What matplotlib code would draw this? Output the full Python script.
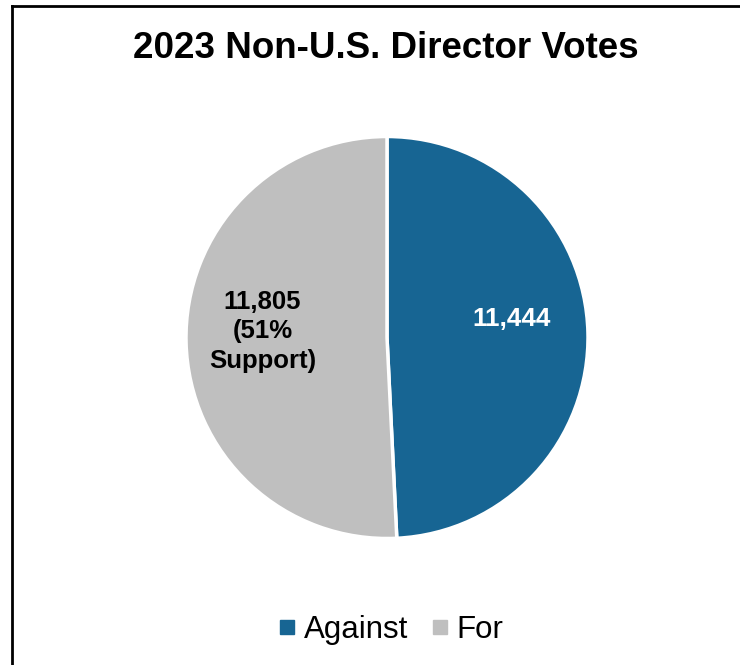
import matplotlib
matplotlib.use("Agg")
import matplotlib.pyplot as plt
from matplotlib.lines import Line2D

plt.rcParams['font.family'] = ['Liberation Sans', 'DejaVu Sans']

# Vote counts
categories = ["Against", "For"]
votes = [11444, 11805]
colors = ["#176593", "#BFBFBF"]
title = "2023 Non-U.S. Director Votes"

total = sum(votes)
support_pct = round(votes[1] / total * 100)
labels = [f"{votes[0]:,}", f"{votes[1]:,}\n({support_pct}%\nSupport)"]
label_colors = ["white", "black"]

fig = plt.figure(figsize=(7.4, 6.65), dpi=100)
ax = fig.add_axes([387/740 - 201/740, 1 - (337.5 + 201)/665, 402/740, 402/665])

wedges, _ = ax.pie(votes, colors=colors, startangle=90, counterclock=False,
                   wedgeprops=dict(edgecolor="white", linewidth=2.5))
ax.set_aspect("equal")
ax.set_xlim(-1, 1)
ax.set_ylim(-1, 1)

# Value labels inside the slices
ax.text(0.62, 0.09, labels[0], ha="center", va="center", color=label_colors[0],
        fontsize=18.8, fontweight="bold")
ax.text(-0.62, 0.03, labels[1], ha="center", va="center", color=label_colors[1],
        fontsize=18.5, fontweight="bold", linespacing=1.3)

fig.text(386/740, 1 - 48/665, title, ha="center", va="center",
         fontsize=26.5, fontweight="bold")

handles = [Line2D([0], [0], marker="s", linestyle="none", markersize=10,
                  markerfacecolor=c, markeredgecolor=c) for c in colors]
fig.legend(handles, categories, loc="center", bbox_to_anchor=(389/740, 1 - 630/665),
           ncol=2, frameon=False, fontsize=22.5, handletextpad=0.15,
           columnspacing=0.6, handlelength=0.8)

# Frame lines along the top and left edges
fig.add_artist(Line2D([12/740, 12/740], [0, 1 - 6/665], color="black", linewidth=2,
                      transform=fig.transFigure))
fig.add_artist(Line2D([12/740, 1], [1 - 6/665, 1 - 6/665], color="black", linewidth=2,
                      transform=fig.transFigure))

fig.savefig("out.png", dpi=100, facecolor="white")
